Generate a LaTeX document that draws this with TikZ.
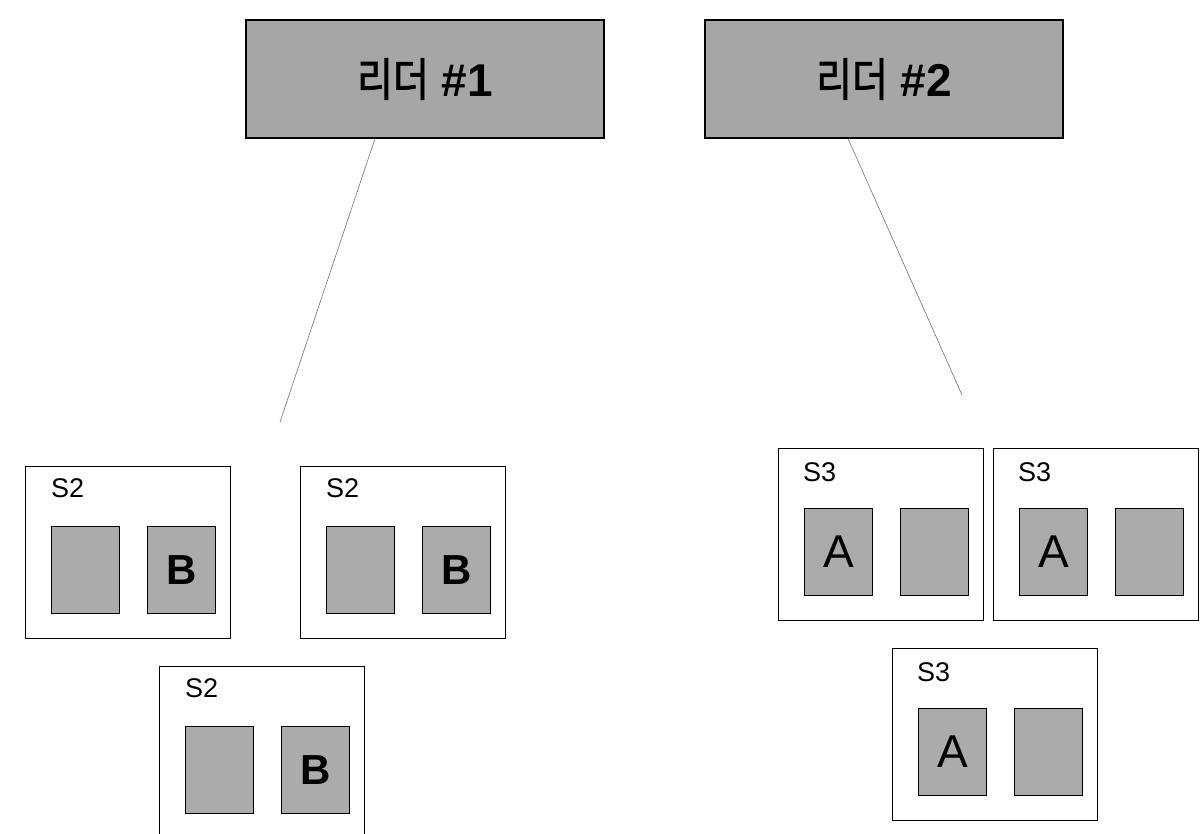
\documentclass[tikz,border=0pt]{standalone}
\usepackage{fontspec}
\setmainfont{Liberation Sans}
\newfontfamily\hangul[FakeBold=1.5]{Noto Sans CJK KR}
\usetikzlibrary{positioning}

\tikzset{
  leader/.style={draw, line width=1.2pt, fill=black!35, minimum width=358pt, minimum height=118pt, inner sep=0pt, font=\fontsize{46}{46}\selectfont},
  server/.style={draw, line width=1pt, fill=white, minimum width=205pt, minimum height=172pt, inner sep=0pt},
  block/.style={draw, line width=1pt, fill=black!33, minimum width=68pt, minimum height=87pt, inner sep=0pt},
  tag/.style={inner sep=0pt, font=\fontsize{27}{27}\selectfont},
  link/.style={black!55, line width=0.6pt}
}

\begin{document}
\begin{tikzpicture}[x=1pt, y=-1pt, node distance=27pt]
\useasboundingbox (0,0) rectangle (1203,834);

% leaders
\node[leader] (leader1) at (425,79) {\scalebox{0.85}[1]{\hangul 리더} \textbf{\#1}};
\node[leader] (leader2) at (884,79) {\scalebox{0.85}[1]{\hangul 리더} \textbf{\#2}};

% S2 group under leader 1
\node[server, anchor=north west] (s2a) at (25,466) {};
\node[tag, below right=12pt and 26pt of s2a.north west] (s2a_tag) {S2};
\node[block, below right=60pt and 26pt of s2a.north west] (s2a_one) {};
\node[block, right=of s2a_one, font=\fontsize{42}{42}\selectfont\bfseries] (s2a_two) {B};

\node[server, anchor=north west] (s2b) at (300,466) {};
\node[tag, below right=12pt and 26pt of s2b.north west] (s2b_tag) {S2};
\node[block, below right=60pt and 26pt of s2b.north west] (s2b_one) {};
\node[block, right=of s2b_one, font=\fontsize{42}{42}\selectfont\bfseries] (s2b_two) {B};

\node[server, anchor=north west] (s2c) at (159,666) {};
\node[tag, below right=12pt and 26pt of s2c.north west] (s2c_tag) {S2};
\node[block, below right=60pt and 26pt of s2c.north west] (s2c_one) {};
\node[block, right=of s2c_one, font=\fontsize{42}{42}\selectfont\bfseries] (s2c_two) {B};

% S3 group under leader 2
\node[server, anchor=north west] (s3a) at (778,448) {};
\node[tag, below right=14pt and 25pt of s3a.north west] (s3a_tag) {S3};
\node[block, below right=60pt and 26pt of s3a.north west, font=\fontsize{46}{46}\selectfont] (s3a_one) {A};
\node[block, right=of s3a_one] (s3a_two) {};

\node[server, anchor=north west] (s3b) at (993,448) {};
\node[tag, below right=14pt and 25pt of s3b.north west] (s3b_tag) {S3};
\node[block, below right=60pt and 26pt of s3b.north west, font=\fontsize{46}{46}\selectfont] (s3b_one) {A};
\node[block, right=of s3b_one] (s3b_two) {};

\node[server, anchor=north west] (s3c) at (892,648) {};
\node[tag, below right=14pt and 25pt of s3c.north west] (s3c_tag) {S3};
\node[block, below right=60pt and 26pt of s3c.north west, font=\fontsize{46}{46}\selectfont] (s3c_one) {A};
\node[block, right=of s3c_one] (s3c_two) {};

% links
\coordinate (tail1) at (280,422);
\coordinate (tail2) at (962,395);
\draw[link] ([xshift=-50pt]leader1.south) -- (tail1);
\draw[link] ([xshift=-36pt]leader2.south) -- (tail2);
\end{tikzpicture}
\end{document}
